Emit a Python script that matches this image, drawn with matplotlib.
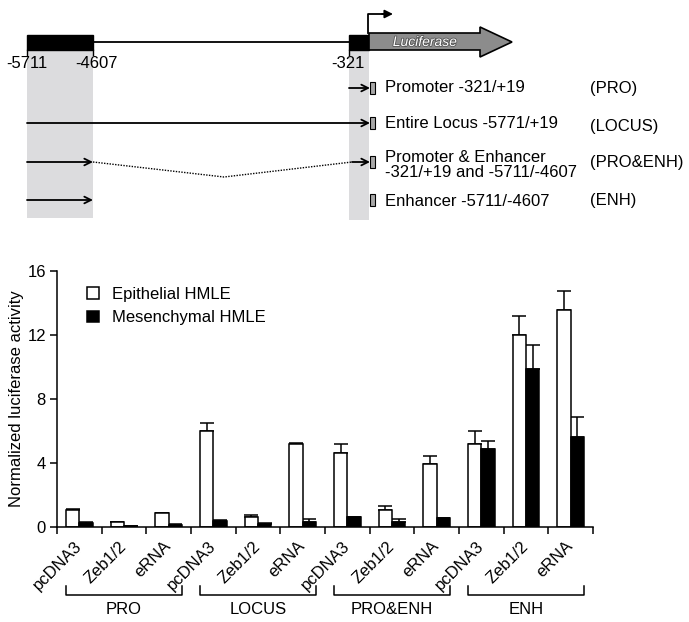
import numpy as np
import matplotlib
matplotlib.use('Agg')
import matplotlib.pyplot as plt
from matplotlib.patches import Rectangle, Polygon
from matplotlib.transforms import blended_transform_factory
import matplotlib.patheffects as pe

plt.rcParams['font.family'] = ['Liberation Sans', 'DejaVu Sans']

# data
groups = ['PRO', 'LOCUS', 'PRO&ENH', 'ENH']
treatments = ['pcDNA3', 'Zeb1/2', 'eRNA']
epi = [1.05, 0.29, 0.90, 5.98, 0.62, 5.17, 4.62, 1.08, 3.96, 5.21, 11.98, 13.58]
epi_err = [0.07, 0.02, 0.0, 0.52, 0.11, 0.08, 0.56, 0.21, 0.48, 0.81, 1.21, 1.19]
mes = [0.25, 0.07, 0.15, 0.37, 0.20, 0.31, 0.60, 0.33, 0.57, 4.85, 9.88, 5.63]
mes_err = [0.04, 0.02, 0.02, 0.04, 0.02, 0.17, 0.04, 0.15, 0.0, 0.52, 1.50, 1.27]

constructs = [('Promoter -321/+19', '(PRO)'),
              ('Entire Locus -5771/+19', '(LOCUS)'),
              ('Promoter & Enhancer\n-321/+19 and -5711/-4607', '(PRO&ENH)'),
              ('Enhancer -5711/-4607', '(ENH)')]

fig = plt.figure(figsize=(6.89, 6.22), dpi=100)

# schematic drawn in pixel space
ax0 = fig.add_axes([0, 0, 1, 1])
ax0.set_xlim(0, 689)
ax0.set_ylim(622, 0)
ax0.axis('off')

shade = '#dcdcde'
ax0.add_patch(Rectangle((27, 50), 66, 168, color=shade, lw=0))
ax0.add_patch(Rectangle((349, 50), 20, 170, color=shade, lw=0))

ax0.plot([93, 349], [42, 42], color='black', lw=1.3)
ax0.add_patch(Rectangle((27, 35), 66, 15, color='black'))
ax0.add_patch(Rectangle((349, 35), 20, 15, color='black'))
for xp in [27, 93, 349]:
    ax0.plot([xp, xp], [50, 55], color='black', lw=1)
for xp, lab in [(27, '-5711'), (96, '-4607'), (348, '-321')]:
    ax0.text(xp, 64, lab, fontsize=12, ha='center', va='center')

ax0.add_patch(Polygon([(369, 33), (480, 33), (480, 27), (512, 42), (480, 57),
                       (480, 50), (369, 50)], closed=True, fc='#8c8c8c',
                      ec='black', lw=1.2))
ax0.text(425, 42, 'Luciferase', fontsize=10, style='italic', color='white',
         ha='center', va='center',
         path_effects=[pe.withStroke(linewidth=1.2, foreground='#555555')])

# transcription start
ax0.plot([368, 368, 384], [33, 14, 14], color='black', lw=1.3)
ax0.annotate('', xy=(393, 14), xytext=(382, 14),
             arrowprops=dict(arrowstyle='-|>', color='black', lw=1.3,
                             mutation_scale=12, shrinkA=0, shrinkB=0))

rows = [88, 123, 162, 200]
arr = dict(arrowstyle='->', color='black', lw=1.3, mutation_scale=12,
           shrinkA=0, shrinkB=0)
ax0.annotate('', xy=(370, rows[0]), xytext=(349, rows[0]), arrowprops=arr)
ax0.annotate('', xy=(370, rows[1]), xytext=(27, rows[1]), arrowprops=arr)
ax0.annotate('', xy=(93, rows[2]), xytext=(27, rows[2]), arrowprops=arr)
ax0.plot([93, 224, 352], [rows[2], 177, rows[2]], color='black', lw=1,
         ls=(0, (1, 1)))
ax0.annotate('', xy=(370, rows[2]), xytext=(352, rows[2]), arrowprops=arr)
ax0.annotate('', xy=(93, rows[3]), xytext=(27, rows[3]), arrowprops=arr)
for r in rows:
    ax0.add_patch(Rectangle((370, r - 6), 5, 12, fc='#a8a8a8', ec='black',
                            lw=0.8))

text_y = [88, 123, 165, 201]
lab_y = [88, 127, 162, 200]
for (desc, short), ty, ly in zip(constructs, text_y, lab_y):
    ax0.text(385, ty, desc, fontsize=12, ha='left', va='center',
             linespacing=1.05)
    ax0.text(590, ly, short, fontsize=12, ha='left', va='center')

# bar chart
ax = fig.add_axes([57 / 689, 95 / 622, 536 / 689, 256 / 622])
n = len(epi)
x = np.arange(n)
w = 0.3
b1 = ax.bar(x - w / 2, epi, w, color='white', edgecolor='black', lw=1.1,
            label='Epithelial HMLE', zorder=2)
b2 = ax.bar(x + w / 2, mes, w, color='black', edgecolor='black', lw=1.1,
            label='Mesenchymal HMLE', zorder=2)
ax.errorbar(x - w / 2, epi, yerr=[np.zeros(n), epi_err], fmt='none',
            ecolor='black', elinewidth=1.1, capsize=5, capthick=1.1, zorder=1)
ax.errorbar(x + w / 2, mes, yerr=[np.zeros(n), mes_err], fmt='none',
            ecolor='black', elinewidth=1.1, capsize=5, capthick=1.1, zorder=1)

ax.set_xlim(-0.5, n - 0.5)
ax.set_ylim(0, 16)
ax.set_yticks([0, 4, 8, 12, 16])
ax.tick_params(axis='y', labelsize=12, width=1.1, length=5, pad=3)
ax.set_xticks(np.arange(n + 1) - 0.5, minor=True)
ax.set_xticks(x)
ax.set_xticklabels(treatments * len(groups), rotation=45, ha='right',
                   va='center', rotation_mode='anchor', fontsize=12)
ax.tick_params(axis='x', which='major', length=0, pad=12)
ax.tick_params(axis='x', which='minor', length=5, width=1.1)
for s in ['top', 'right']:
    ax.spines[s].set_visible(False)
for s in ['left', 'bottom']:
    ax.spines[s].set_linewidth(1.1)
ax.set_ylabel('Normalized luciferase activity', fontsize=12, labelpad=2)

ax.legend(handles=[b1, b2], loc='upper left', bbox_to_anchor=(87, 287),
          bbox_transform=ax0.transData, frameon=False, fontsize=12,
          handlelength=0.72, handleheight=0.72, handletextpad=0.75,
          labelspacing=0.5, borderpad=0, borderaxespad=0)

# group brackets
tr = blended_transform_factory(ax.transData, ax0.transData)
for g, name in enumerate(groups):
    x0 = g * 3 - 0.5 + 0.2
    x1 = g * 3 + 2.5 - 0.2
    ax.plot([x0, x0, x1, x1], [586, 595, 595, 586], color='black', lw=1.1,
            transform=tr, clip_on=False)
    ax.text((x0 + x1) / 2, 609, name, fontsize=12, ha='center', va='center',
            transform=tr)

fig.savefig('out.png', dpi=100)
